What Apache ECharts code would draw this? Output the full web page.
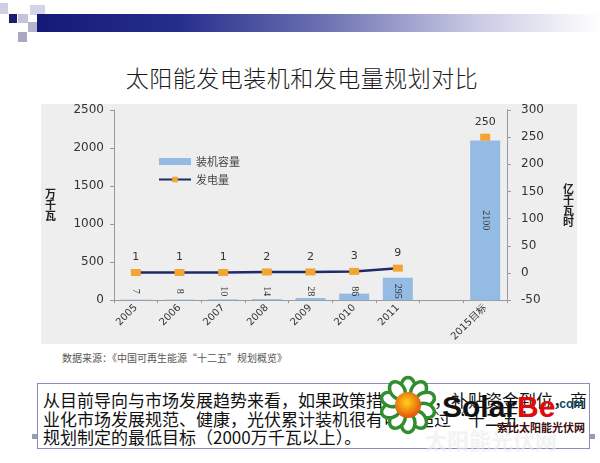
<!DOCTYPE html>
<html lang="zh-CN">
<head>
<meta charset="utf-8">
<title>太阳能发电装机和发电量规划对比</title>
<script src="https://cdn.jsdelivr.net/npm/echarts@6/dist/echarts.min.js"></script>
<style>
  html, body { margin: 0; padding: 0; background: #fff; }
  #slide { position: relative; width: 600px; height: 463px; overflow: hidden; font-family: "Noto Sans CJK SC", sans-serif; }
  .sq { position: absolute; }
  #bar { position: absolute; left: 37px; top: 14px; width: 563px; height: 18px;
         background: linear-gradient(to right, #131977 0%, #262e8c 25%, #6f74b3 52%, #c9cae3 78%, #ffffff 100%); }
  #title { position: absolute; left: 0; width: 604px; top: 60px; text-align: center; font-size: 23px; color: #1b1b1b; font-weight: 300; letter-spacing: 0.5px; }
  #chart { position: absolute; left: 41px; top: 104px; width: 536px; height: 240px; background: #eeeeee; }
  #source { position: absolute; left: 62px; top: 350px; font-size: 10px; color: #555; }
  #box { position: absolute; left: 37px; top: 383px; width: 553px; height: 66px; border: 1.5px solid #8c8cb8;
         padding: 7px 0 0 5px; box-sizing: border-box; font-size: 17px; line-height: 18.5px; color: #111; white-space: nowrap; }
  #logo { position: absolute; left: 380px; top: 375px; }
</style>
</head>
<body>
<div id="slide">
  <div class="sq" style="left:0;top:3px;width:8px;height:11px;background:#cfcfe4"></div>
  <div class="sq" style="left:9px;top:14px;width:8px;height:9px;background:#1a1f6e"></div>
  <div class="sq" style="left:18px;top:14px;width:10px;height:9px;background:#c4c4dc"></div>
  <div class="sq" style="left:30px;top:5px;width:15px;height:10px;background:#d4d4e8"></div>
  <div class="sq" style="left:28px;top:22px;width:9px;height:10px;background:#b4b4cf"></div>
  <div class="sq" style="left:18px;top:32px;width:9px;height:10px;background:#a9a9c6"></div>
  <div id="bar"></div>
  <div id="title">太阳能发电装机和发电量规划对比</div>
  <div id="chart"></div>
  <div id="source">数据来源：《中国可再生能源“十二五”规划概览》</div>
  <div id="box">从目前导向与市场发展趋势来看，如果政策措施得力，补贴资金到位，商<br>业化市场发展规范、健康，光伏累计装机很有可能超过“十二五”<br>规划制定的最低目标（2000万千瓦以上）。</div>
  <div class="sq" style="left:32px;top:434px;width:5px;height:5px;background:#9a9ab8"></div>
  <div class="sq" style="left:590px;top:434px;width:5px;height:5px;background:#9a9ab8"></div>
  <svg id="logo" width="220" height="85" viewBox="0 0 220 85">
    <defs>
      <radialGradient id="core" cx="45%" cy="40%" r="60%">
        <stop offset="0%" stop-color="#ffd21a"/>
        <stop offset="100%" stop-color="#e4520c"/>
      </radialGradient>
    </defs>
    <text x="45" y="74" font-family="Noto Sans CJK SC" font-weight="bold" font-size="22" fill="#ececec" opacity="0.6">太阳能光伏网</text>
    <g id="petals" transform="translate(28,30)"></g>
    <circle cx="28" cy="30" r="13" fill="url(#core)"/>
    <text x="62" y="42" font-family="Liberation Sans" font-weight="bold" font-size="30"><tspan fill="#111">Solar</tspan><tspan fill="#e10a0a">Be</tspan></text>
    <text x="176" y="33" font-family="Liberation Sans" font-weight="bold" font-size="12" fill="#0e4a5e">.com</text>
    <text x="117" y="57" font-family="Noto Sans CJK SC" font-weight="bold" font-size="11" fill="#3b0d0d">索比太阳能光伏网</text>
  </svg>
</div>
<script>
  // 数据
  const categories = ['2005', '2006', '2007', '2008', '2009', '2010', '2011', '', '2015目标'];
  const capacity = [7, 8, 10, 14, 28, 86, 295, '-', 2100];      // 装机容量（万千瓦）
  const generation = [1, 1, 1, 2, 2, 3, 9, '-', 250];           // 发电量（亿千瓦时）

  // logo 花瓣
  const petals = document.getElementById('petals');
  for (let i = 0; i < 10; i++) {
    const e = document.createElementNS('http://www.w3.org/2000/svg', 'ellipse');
    e.setAttribute('cx', 0); e.setAttribute('cy', -18);
    e.setAttribute('rx', 7); e.setAttribute('ry', 9.5);
    e.setAttribute('fill', '#fff'); e.setAttribute('stroke', '#2f8f2f'); e.setAttribute('stroke-width', 3.5);
    e.setAttribute('transform', 'rotate(' + (i * 36) + ')');
    petals.appendChild(e);
  }

  const chart = echarts.init(document.getElementById('chart'));
  const numFont = 'DejaVu Sans';

  const barData = capacity.map(v => v > 1000 ? { value: v, label: { position: 'inside' } } : v);
  const nameStyle = { fontSize: 11, fontWeight: 'bold', color: '#222', lineHeight: 11, fontFamily: 'Noto Sans CJK SC' };

  chart.setOption({
    animation: false,
    grid: { left: 73, right: 70, top: 5, bottom: 43 },
    legend: {
      orient: 'vertical',
      left: 112, top: 47,
      itemWidth: 32, itemHeight: 7, itemGap: 7,
      textStyle: { fontSize: 11, color: '#444', fontFamily: 'Noto Sans CJK SC' },
      data: [{ name: '装机容量', icon: 'rect' }, { name: '发电量' }]
    },
    xAxis: {
      type: 'category',
      data: categories,
      axisLine: { lineStyle: { color: '#9a9a9a' } },
      axisTick: { show: true, length: 3, lineStyle: { color: '#9a9a9a' } },
      axisLabel: { rotate: 45, fontSize: 10, color: '#333', fontFamily: numFont, margin: 6, interval: 0 }
    },
    yAxis: [{
      type: 'value',
      min: 0, max: 2500, interval: 500,
      name: '万\n千\n瓦', nameLocation: 'middle', nameGap: 58, nameRotate: 0,
      nameTextStyle: nameStyle,
      axisLine: { show: true, lineStyle: { color: '#9a9a9a' } },
      axisTick: { show: true, length: 4, lineStyle: { color: '#9a9a9a' } },
      axisLabel: { fontSize: 12, color: '#333', fontFamily: numFont, margin: 10, formatter: v => String(v) },
      splitLine: { show: false }
    }, {
      type: 'value',
      min: -50, max: 300, interval: 50,
      name: '亿\n千\n瓦\n时', nameLocation: 'middle', nameGap: 56, nameRotate: 0,
      nameTextStyle: nameStyle,
      axisLine: { show: true, lineStyle: { color: '#9a9a9a' } },
      axisTick: { show: true, length: 4, lineStyle: { color: '#9a9a9a' } },
      axisLabel: { fontSize: 12, color: '#333', fontFamily: numFont, margin: 14, formatter: v => String(v) },
      splitLine: { show: false }
    }],
    series: [{
      name: '装机容量',
      type: 'bar',
      data: barData,
      barWidth: 30,
      itemStyle: { color: '#93bbe3' },
      label: {
        show: true,
        position: 'insideBottom',
        distance: 9,
        rotate: -90,
        align: 'center',
        verticalAlign: 'middle',
        fontSize: 10,
        color: '#333',
        fontFamily: 'Liberation Sans Narrow'
      }
    }, {
      name: '发电量',
      type: 'line',
      yAxisIndex: 1,
      data: generation,
      connectNulls: false,
      symbol: 'rect',
      symbolSize: [10, 7],
      showAllSymbol: true,
      lineStyle: { color: '#1f2a6b', width: 2.5 },
      itemStyle: { color: '#f2a531' },
      label: { show: true, position: 'top', distance: 6, fontSize: 11, color: '#333', fontFamily: numFont },
      z: 3
    }]
  });

  window.addEventListener('resize', chart.resize);
</script>
</body>
</html>
